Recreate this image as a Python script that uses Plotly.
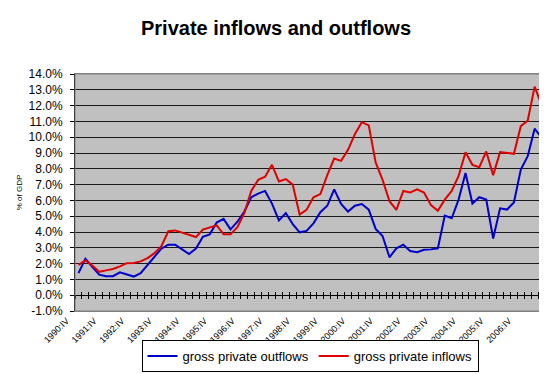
import plotly.graph_objects as go

# Quarters 1990:IV .. 2007:III
quarters = []
y, q = 1990, 4
roman = {1: "I", 2: "II", 3: "III", 4: "IV"}
for _ in range(68):
    quarters.append(f"{y}:{roman[q]}")
    q += 1
    if q > 4:
        q = 1
        y += 1

outflows = [1.4, 2.3, 1.8, 1.3, 1.2, 1.2, 1.45, 1.3, 1.18, 1.4,
            1.9, 2.4, 2.95, 3.2, 3.2, 2.9, 2.6, 2.95, 3.7, 3.85,
            4.6, 4.83, 4.17, 4.65, 5.3, 6.2, 6.43, 6.6, 5.8, 4.73,
            5.2, 4.5, 3.98, 4.07, 4.55, 5.25, 5.66, 6.7, 5.77, 5.29,
            5.66, 5.77, 5.41, 4.2, 3.75, 2.4, 2.97, 3.2, 2.8, 2.72,
            2.87, 2.9, 2.97, 5.04, 4.87, 6.05, 7.74, 5.8, 6.2, 6.05,
            3.59, 5.5, 5.42, 5.87, 7.95, 8.8, 10.54, 9.98]

inflows = [1.92, 2.2, 1.88, 1.48, 1.57, 1.66, 1.82, 2.03, 2.04, 2.14,
           2.35, 2.66, 3.1, 4.05, 4.1, 3.95, 3.8, 3.68, 4.15, 4.3,
           4.42, 3.85, 3.85, 4.3, 5.2, 6.6, 7.3, 7.5, 8.25, 7.2,
           7.35, 7.0, 5.1, 5.4, 6.2, 6.4, 7.6, 8.65, 8.5, 9.2,
           10.2, 10.95, 10.75, 8.4, 7.3, 5.95, 5.4, 6.6, 6.5, 6.7,
           6.5, 5.7, 5.35, 6.05, 6.6, 7.55, 9.05, 8.25, 8.1, 9.1,
           7.6, 9.05, 9.0, 8.95, 10.7, 11.05, 13.2, 12.05]

y_ticks = list(range(-1, 15))
y_ticktext = [f"{v:.1f}%" for v in y_ticks]
x_ticks = quarters[::4]

FONT = "Liberation Sans, Arial, sans-serif"
n = len(quarters)
xr = [-0.5, n - 0.5]
zero_pos = (0 - (-1)) / (14 - (-1))

fig = go.Figure()
fig.add_trace(go.Scatter(x=quarters, y=outflows, mode="lines",
                         name="gross private outflows",
                         line=dict(color="#0000CC", width=2)))
fig.add_trace(go.Scatter(x=quarters, y=inflows, mode="lines",
                         name="gross private inflows",
                         line=dict(color="#E00000", width=2)))

fig.update_layout(
    width=547, height=374,
    margin=dict(l=67, r=10, t=66, b=67),
    paper_bgcolor="white",
    plot_bgcolor="#C0C0C0",
    font=dict(family=FONT, color="black"),
    title=dict(text="<b>Private inflows and outflows</b>",
               font=dict(family=FONT, size=20, color="black"),
               x=0.49, xanchor="center", y=1 - 20 / 374, yanchor="middle",
               yref="container"),
    showlegend=True,
    legend=dict(orientation="h", x=0.5, xanchor="center",
                y=-0.19, yanchor="middle",
                bgcolor="white", bordercolor="black", borderwidth=1,
                font=dict(family=FONT, size=13, color="black"),
                itemwidth=30),
    xaxis=dict(type="category", categoryorder="array", categoryarray=quarters,
               range=xr, tickmode="array", tickvals=x_ticks, ticktext=x_ticks,
               tickangle=-45, tickfont=dict(size=9, family=FONT),
               ticklabelshift=-12,
               showgrid=False, zeroline=False, ticks="",
               showline=True, linecolor="#808080", linewidth=1, mirror=True),
    xaxis2=dict(overlaying="x", anchor="free", position=zero_pos,
                range=xr, type="linear", tickmode="linear", tick0=-0.5, dtick=1,
                ticks="outside", ticklen=3, tickcolor="black", tickwidth=1,
                showticklabels=False, showgrid=False, zeroline=False,
                showline=False),
    xaxis3=dict(overlaying="x", anchor="free", position=zero_pos,
                range=xr, type="linear", tickmode="linear", tick0=-0.5, dtick=1,
                ticks="inside", ticklen=3, tickcolor="black", tickwidth=1,
                showticklabels=False, showgrid=False, zeroline=False,
                showline=False),
    yaxis=dict(range=[-1, 14], tickmode="array", tickvals=y_ticks,
               ticktext=y_ticktext, tickfont=dict(size=12, family=FONT),
               ticks="outside", ticklen=4, tickcolor="black",
               ticklabelstandoff=5,
               showgrid=True, gridcolor="#1a1a1a", gridwidth=1,
               zeroline=True, zerolinecolor="black", zerolinewidth=1,
               showline=True, linecolor="black", linewidth=1,
               title=dict(text="% of GDP", font=dict(size=8, family=FONT),
                          standoff=4)),
)

# invisible helper traces so overlay tick axes render
fig.add_trace(go.Scatter(x=[xr[0]], y=[None], xaxis="x2", showlegend=False,
                         hoverinfo="skip", mode="lines"))
fig.add_trace(go.Scatter(x=[xr[0]], y=[None], xaxis="x3", showlegend=False,
                         hoverinfo="skip", mode="lines"))

# gray border on top/right
fig.add_shape(type="rect", xref="paper", yref="paper", x0=0, y0=0, x1=1, y1=1,
              line=dict(color="#808080", width=1), layer="above")

fig.write_html("out.html")
